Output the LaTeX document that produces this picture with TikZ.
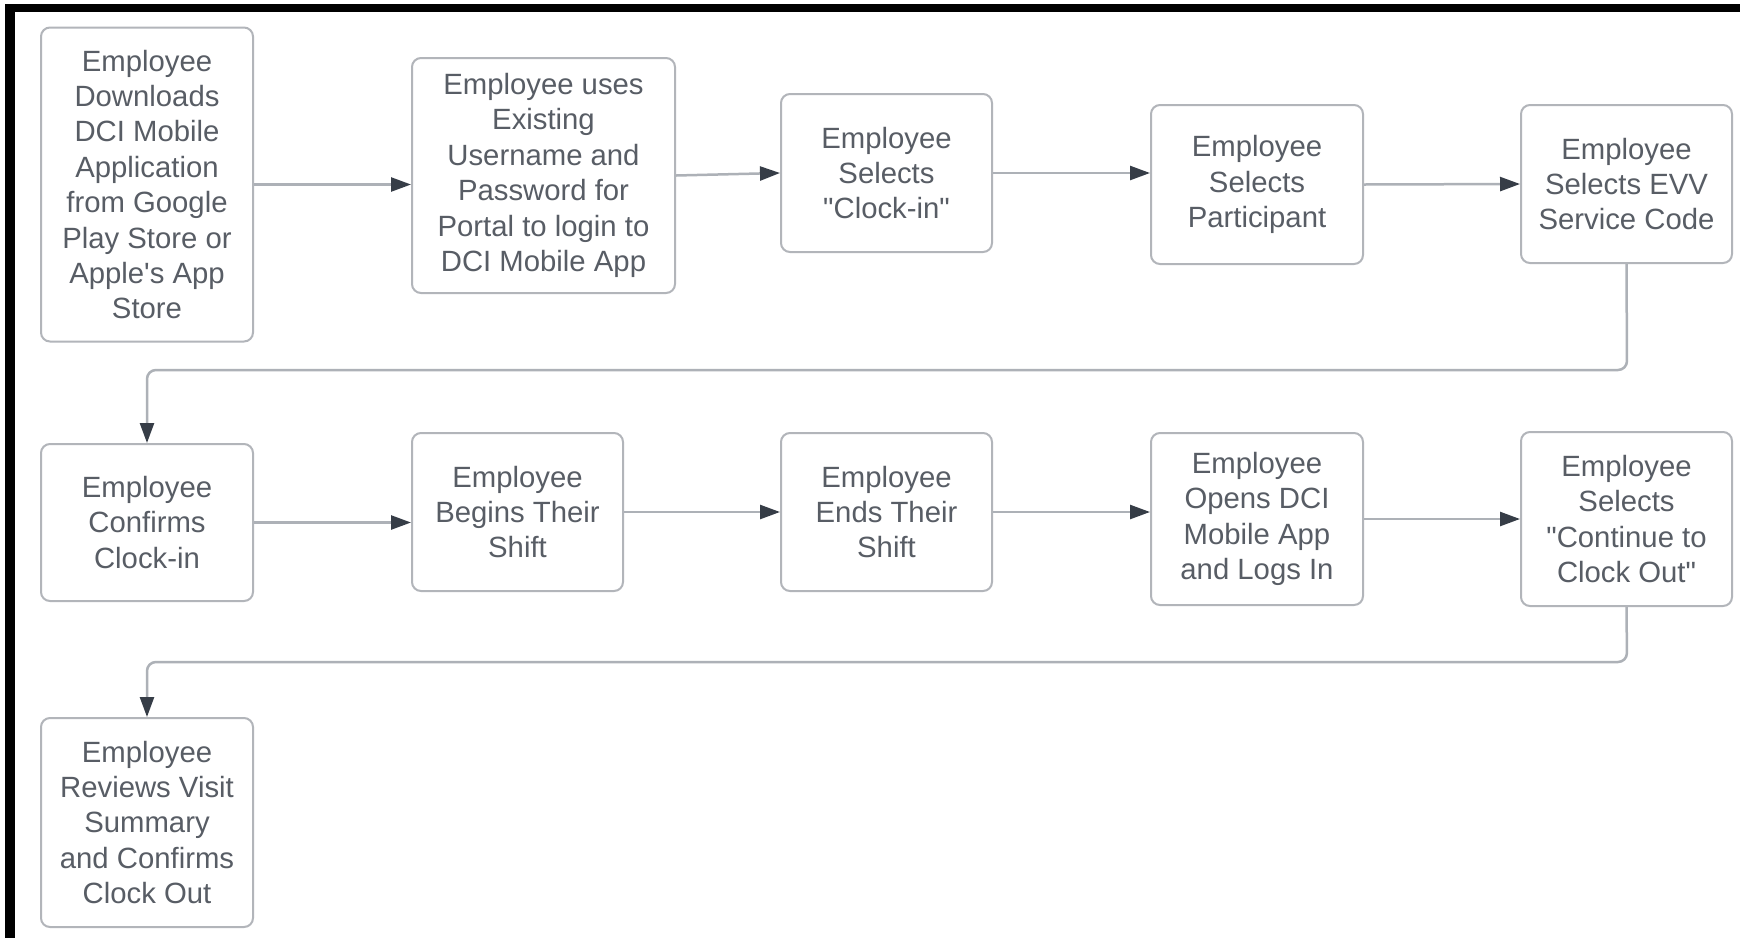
\documentclass[tikz,border=0pt]{standalone}
\usepackage{fontspec}
\newfontfamily\lsans{Liberation Sans}
\usetikzlibrary{arrows.meta}
\definecolor{boxline}{HTML}{B2B5BA}
\definecolor{txt}{HTML}{585D65}
\definecolor{conn}{HTML}{ADB1B7}
\definecolor{tipc}{HTML}{363D47}
\begin{document}
\begin{tikzpicture}[x=1pt,y=-1pt,
  stepbox/.style={draw=boxline, line width=2pt, rounded corners=9pt, fill=white,
    align=center, text=txt, inner sep=0pt, font=\lsans\fontsize{29.3}{35.4}\selectfont},
  flow/.style={draw=conn, line width=2.5pt, rounded corners=9pt,
    -{Triangle[length=20pt,width=14pt,fill=tipc,color=tipc]}}]
\useasboundingbox (0,0) rectangle (1740,938);
\fill[white] (0,0) rectangle (1740,938);
% partial black frame (top and left)
\fill[black] (5,4) rectangle (1740,12);
\fill[black] (5,4) rectangle (15,938);
% nodes
\node[stepbox, minimum width=212pt, minimum height=314pt] (b1) at (147,184.5)
  {Employee\\Downloads\\DCI Mobile\\Application\\from Google\\Play Store or\\Apple's App\\Store};
\node[stepbox, minimum width=263pt, minimum height=235pt] (b2) at (543.5,175.5)
  {Employee uses\\Existing\\Username and\\Password for\\Portal to login to\\DCI Mobile App};
\node[stepbox, minimum width=211pt, minimum height=158pt] (b3) at (886.5,173)
  {Employee\\Selects\\"Clock-in"};
\node[stepbox, minimum width=212pt, minimum height=159pt] (b4) at (1257,184.5)
  {Employee\\Selects\\Participant};
\node[stepbox, minimum width=211pt, minimum height=158pt] (b5) at (1626.5,184)
  {Employee\\Selects EVV\\Service Code};
\node[stepbox, minimum width=212pt, minimum height=157pt] (b6) at (147,522.5)
  {Employee\\Confirms\\Clock-in};
\node[stepbox, minimum width=211pt, minimum height=158pt] (b7) at (517.5,512)
  {Employee\\Begins Their\\Shift};
\node[stepbox, minimum width=211pt, minimum height=158pt] (b8) at (886.5,512)
  {Employee\\Ends Their\\Shift};
\node[stepbox, minimum width=212pt, minimum height=172pt] (b9) at (1257,519)
  {Employee\\Opens DCI\\Mobile App\\and Logs In};
\node[stepbox, minimum width=211pt, minimum height=174pt] (b10) at (1626.5,519)
  {Employee\\Selects\\"Continue to\\Clock Out"};
\node[stepbox, minimum width=212pt, minimum height=209pt] (b11) at (147,822.5)
  {Employee\\Reviews Visit\\Summary\\and Confirms\\Clock Out};
% connectors
\coordinate (j1) at (1627,370);
\coordinate (j2) at (1627,662);
\draw[flow] (b1.east) -- (b1.east -| b2.west);
\draw[flow] (b2.east) -- (b3.west);
\draw[flow] (b3.east) -- (b3.east -| b4.west);
\draw[flow] (b4.east) -- (b5.west);
\draw[flow] (b5.south) -- (j1) -- (j1 -| b6.north) -- (b6.north);
\draw[flow] (b6.east) -- (b6.east -| b7.west);
\draw[flow] (b7.east) -- (b8.west);
\draw[flow] (b8.east) -- (b8.east -| b9.west);
\draw[flow] (b9.east) -- (b10.west);
\draw[flow] (b10.south) -- (j2) -- (j2 -| b11.north) -- (b11.north);
\end{tikzpicture}
\end{document}
